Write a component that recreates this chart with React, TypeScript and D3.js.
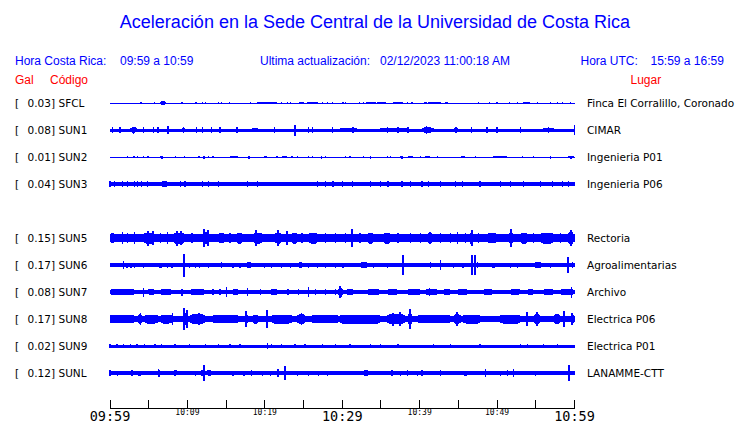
import React from "react";
import * as d3 from "d3";

const title = "Aceleración en la Sede Central de la Universidad de Costa Rica";
const codes = ["SFCL", "SUN1", "SUN2", "SUN3", "SUN5", "SUN6", "SUN7", "SUN8", "SUN9", "SUNL"];
const gals = ["0.03", "0.08", "0.01", "0.04", "0.15", "0.17", "0.08", "0.17", "0.02", "0.12"];
const places = [
  "Finca El Corralillo, Coronado", "CIMAR", "Ingenieria P01", "Ingenieria P06", "Rectoria",
  "Agroalimentarias", "Archivo", "Electrica P06", "Electrica P01", "LANAMME-CTT",
];
const slots = [0, 1, 2, 3, 5, 6, 7, 8, 9, 10];
// background (noise floor) half-amplitude for each trace, relative units
const baseAmp = [0.5, 1.5, 0.5, 1.7, 4.0, 1.6, 2.3, 3.4, 1.5, 1.7];

// events: [minute, amp] spikes or [minuteStart, minuteEnd, amp] bursts (minutes after 09:59)
const evSFCL = [[4.0,1],[5.7,0.7],[6.5,7.2,2.2],[9.3,0.8],[11.1,0.8],[11.9,1],[12.3,1],[14.0,1],[14.4,1],[15.4,1],[18.2,1],[19.0,21.6,1.1],[22.2,1],[22.9,1],[23.3,1],[24.4,25.0,1.2],[25.5,26.9,1.2],[27.5,1],[28.1,1],[28.7,1],[30.1,1],[30.4,1],[32.2,1],[32.7,1],[33.1,34.3,1],[34.5,35.6,1.2],[36.6,37.8,1.4],[38.4,1],[39.0,1],[40.5,41.0,1.2],[41.1,42.7,1],[43.3,43.7,1],[47.6,1],[49.0,1],[50.0,1],[51.6,1],[52.6,1],[53.4,54.3,1],[55.2,1],[56.9,1],[57.8,1],[58.4,1],[59.5,1]];
const evSUN1 = [[0.3,2.8],[1.3,2.8],[2.6,3.5,2.6],[3.0,3.5],[4.3,3.2],[5.6,2.8],[6.2,2.8],[7.5,3.6],[9.3,9.7,2.6],[11.2,3.2],[11.9,2.8],[13.1,2.8],[14.2,3],[16.4,2.6],[18.4,19.1,2.3],[21.3,2.8],[23.9,5.5],[25.6,2.8],[26.2,2.8],[28.7,2.8],[29.7,31.9,2.2],[31.4,3.2],[34.9,38.4,2],[35.8,2.8],[37.2,2.8],[38.5,3],[40.3,41.8,2.6],[40.9,3.8],[44.4,44.9,2.7],[44.6,3.3],[46.7,2.8],[48.7,2.8],[50.0,3.3],[53.0,2.8],[55.9,57.3,2.3],[56.6,2.8],[59.9,60,5]];
const evSUN2 = [[2.3,1.3],[3.1,1.3],[3.6,1.3],[4.3,1.3],[4.9,1.3],[6.5,6.9,1.5],[8.5,1.2],[9.6,1.2],[11.5,1.2],[12.0,12.3,1.5],[12.7,1.2],[13.3,1.2],[15.5,16.6,1.2],[17.8,18.1,1.5],[19.9,20.3,1.3],[21.5,21.7,1.3],[22.2,22.9,1.2],[23.5,1.2],[24.2,1.2],[25.6,1.2],[26.2,1.2],[27.2,27.4,1.5],[27.8,1.2],[30.4,1.2],[31.0,1.2],[32.7,1.2],[33.6,1.5],[35.8,1.2],[36.2,1.2],[37.5,37.9,1.5],[38.5,39.2,1.2],[40.1,1.2],[40.7,41.4,1.2],[42.3,1.2],[45.3,45.9,1.2],[47.2,1.2],[49.5,51.3,1.3],[53.3,1.2],[54.7,1.2],[56.9,1.5],[59.2,59.9,1.5]];
const evSUN3 = [[0.0,2.8],[0.6,2.6],[1.6,2.6],[2.3,2.6],[3.2,2.6],[3.6,2.6],[4.1,2.6],[4.8,2.8],[6.5,7.5,2.8],[9.1,2.6],[9.7,2.6],[11.9,2.8],[12.7,3.2],[14.0,2.6],[15.8,16.6,2.4],[17.8,2.6],[19.1,2.6],[20.0,20.4,2.4],[20.9,22.2,2.2],[22.9,24.2,2.2],[26.8,2.6],[27.8,2.6],[28.8,3.4],[30.0,2.6],[31.3,2.6],[33.6,2.6],[34.9,2.6],[35.9,2.6],[37.5,37.9,2.6],[38.8,2.6],[40.3,2.6],[41.1,2.6],[42.7,2.6],[44.6,2.6],[45.5,2.8],[47.8,2.6],[50.4,2.6],[51.7,2.6],[53.4,2.6],[55.6,2.6],[57.2,2.8],[58.4,2.6],[59.2,3.2]];
const evSUN5 = [[0.0,0.6,4.8],[1.6,6],[2.3,5],[3.2,6],[4.3,5.8,5.5],[4.9,7.5],[5.6,7],[6.5,5],[7.4,6],[8.1,9.7,5.5],[8.6,7.5],[9.2,7],[10.6,5],[11.9,12.7,6],[12.2,9],[12.6,8],[14.0,14.9,5],[15.5,5],[16.4,17.1,5.5],[18.5,19.7,5.5],[18.8,8],[21.3,22.2,5.5],[21.7,8],[22.9,7],[23.5,24.2,5.5],[24.8,5],[25.6,26.9,5.5],[27.8,4.8],[29.1,5],[30.4,5],[31.3,9],[32.3,5],[33.2,34.0,5.5],[35.3,36.2,5.5],[37.2,5],[38.8,5],[40.1,5],[41.1,41.6,6],[42.7,5],[44.0,4.8],[44.9,6],[45.9,5],[46.4,47.0,5.5],[46.8,8],[47.6,4.8],[48.7,50.0,5],[51.5,52.1,6],[51.8,9],[53.0,53.9,5.5],[54.7,5],[55.6,57.3,5.5],[58.2,5],[59.1,59.9,6],[59.5,8]];
const evSUN6 = [[1.7,4],[2.2,2.5],[2.7,2.5],[3.2,2.5],[4.3,2.5],[6.2,6.9,2.5],[7.4,2.5],[8.0,2.5],[9.6,11.5],[10.3,2.5],[11.0,2.5],[11.6,2.5],[12.7,2.5],[14.2,14.6,2.8],[15.9,2.5],[16.6,17.1,2.5],[17.5,18.4,2.6],[20.0,2.5],[20.9,2.5],[22.2,2.5],[23.3,2.5],[24.2,25.0,2.6],[25.6,2.5],[26.8,2.5],[27.8,2.5],[29.1,2.5],[30.1,2.5],[32.3,33.4,3],[34.0,2.5],[35.8,2.5],[37.8,10],[38.8,40.1,2.3],[41.4,3],[42.7,5],[44.4,2.5],[45.6,2.5],[46.7,10],[47.1,10],[47.5,3],[49.1,50.0,2.5],[51.7,2.5],[52.6,2.5],[54.6,55.9,2.8],[56.9,2.5],[59.1,8],[59.7,3]];
const evSUN7 = [[0.0,3.2,2.9],[4.3,4.5],[4.9,5.8,2.9],[6.5,8.0,2.9],[9.3,3.5],[10.3,12.3,2.9],[13.3,3.2],[14.2,3.2],[15.1,5],[15.8,16.6,2.9],[17.8,4],[19.4,3.2],[20.7,21.7,2.9],[23.0,3.2],[24.3,3.2],[25.6,5],[26.5,3.2],[27.8,3.2],[29.1,3.2],[29.5,30.1,4.5],[29.7,6],[30.6,31.4,2.9],[33.2,34.9,2.9],[35.8,37.2,2.9],[38.4,40.1,2.9],[40.7,42.3,3.2],[41.3,4],[43.1,44.0,2.9],[44.9,46.2,2.9],[48.2,49.5,2.9],[51.7,53.0,2.9],[53.9,54.7,2.9],[56.0,57.3,2.9],[58.2,59.9,2.9],[59.6,5.5]];
const evSUN8 = [[0.0,3.2,4],[3.6,4.1,5],[3.9,6],[4.5,6.2,4.5],[6.5,8.0,4.5],[8.1,6],[9.4,10.0,6],[9.6,11],[9.9,9],[10.3,12.3,4.8],[11.5,6],[13.2,16.6,4],[17.5,17.8,5.5],[17.6,8],[18.5,19.1,4.5],[20.3,9],[20.9,23.5,4.5],[24.2,25.2,5],[24.7,6],[26.1,29.5,4],[29.7,34.9,4.5],[35.8,38.1,5],[36.6,6.5],[37.5,7],[38.5,39.0,7],[38.8,10],[39.7,44.0,4],[44.4,45.3,5],[44.8,7],[45.6,47.8,4.5],[50.4,53.0,4.5],[53.9,7],[54.7,55.6,5],[55.1,7],[57.3,58.2,5],[58.6,8],[59.5,59.9,6]];
const evSUN9 = [[0.0,2],[0.9,2],[1.7,2],[2.6,2],[3.5,2],[4.5,2],[5.8,2],[6.7,2],[8.4,2],[10.3,2],[12.3,2],[14.0,2],[15.5,2],[16.8,2],[20.3,3],[20.9,2],[22.2,2],[23.9,2],[25.2,2],[27.4,2],[29.1,2],[31.0,2],[33.6,2],[34.9,2],[37.2,2],[41.8,2],[44.0,2],[47.8,2],[53.0,2],[53.9,2],[56.0,2],[57.8,2]];
const evSUNL = [[0.0,3],[1.0,2.5],[2.6,3.0,2.8],[3.5,4.1,2.5],[6.1,6.5,3.5],[6.3,4],[8.1,8.7,2.8],[11.0,2.5],[11.6,12.3,3.2],[12.2,8],[12.5,13.2,3.2],[15.9,2.5],[17.1,17.5,2.5],[18.1,18.4,2.8],[19.7,2.5],[20.7,2.5],[21.7,4],[22.6,7],[24.2,2.5],[25.6,2.5],[26.9,2.5],[28.1,2.5],[32.7,33.4,2.8],[36.2,36.6,2.8],[37.5,2.5],[38.4,3],[39.7,2.5],[40.3,3],[42.7,3],[45.6,46.2,2.5],[48.5,4],[50.4,2.5],[51.3,3],[52.1,4],[55.0,2.5],[59.1,59.5,5],[59.3,8]];
const events = [evSFCL, evSUN1, evSUN2, evSUN3, evSUN5, evSUN6, evSUN7, evSUN8, evSUN9, evSUNL];

const tickMinutes = d3.range(0, 61, 5);
const labelMinutes = [0, 10, 20, 30, 40, 50, 60];
const tickLabels = ["09:59", "10:09", "10:19", "10:29", "10:39", "10:49", "10:59"];
const bigLabels = [true, false, false, true, false, false, true];

const BLUE = "#0000ff";
const RED = "#ff0000";

export default function App() {
  const x = d3.scaleLinear().domain([0, 60]).range([110, 574.5]);
  const rowY = d3.scaleLinear().domain([0, 10]).range([103, 373]);
  const amp = d3.scaleLinear().domain([0, 12]).range([0, 12]);
  const sans = "'Liberation Sans', Arial, sans-serif";
  const dv = "'DejaVu Sans', sans-serif";
  const mono = "'DejaVu Sans Mono', monospace";
  const axisY = 408.5;

  return (
    <svg width={740} height={423} style={{ position: "absolute", left: 0, top: 0, background: "#fff" }}>
      <rect x={0} y={0} width={740} height={423} fill="#fff" />
      <text x={375} y={28} textAnchor="middle" fontFamily={sans} fontSize={18} fill={BLUE}>{title}</text>

      <g fontFamily={sans} fontSize={12} fill={BLUE}>
        <text x={15} y={65}>Hora Costa Rica:</text>
        <text x={120} y={65}>09:59 a 10:59</text>
        <text x={260} y={65}>Ultima actualización:</text>
        <text x={380} y={65}>02/12/2023 11:00:18 AM</text>
        <text x={580.5} y={65}>Hora UTC:</text>
        <text x={650.5} y={65}>15:59 a 16:59</text>
      </g>
      <g fontFamily={sans} fontSize={12} fill={RED}>
        <text x={15} y={84}>Gal</text>
        <text x={50} y={84}>Código</text>
        <text x={630.5} y={84}>Lugar</text>
      </g>

      {codes.map((c, i) => {
        const cy = rowY(slots[i]);
        const b = amp(baseAmp[i]);
        return (
          <g key={c}>
            <g fontFamily={dv} fontSize={10.5} fill="#000">
              <text x={15} y={cy + 4}>[</text>
              <text x={27.5} y={cy + 4}>{gals[i]}]</text>
              <text x={58.5} y={cy + 4}>{c}</text>
              <text x={587} y={cy + 4}>{places[i]}</text>
            </g>
            <g fill={BLUE} shapeRendering="crispEdges">
              <rect x={x(0)} y={cy - b} width={x(60) - x(0)} height={Math.max(1, 2 * b)} />
              {events[i].map((e, j) => {
                if (e.length === 3) {
                  const x0 = x(e[0]);
                  const x1 = Math.max(x(e[1]), x0 + 1.2);
                  const a = amp(e[2]);
                  const tp = Math.min((x1 - x0) * 0.25, 2.5);
                  const bb = Math.min(b, a);
                  const pts: [number, number][] = [
                    [x0, cy - bb], [x0 + tp, cy - a], [x1 - tp, cy - a], [x1, cy - bb],
                    [x1, cy + bb], [x1 - tp, cy + a], [x0 + tp, cy + a], [x0, cy + bb],
                  ];
                  return <polygon key={j} points={pts.map((p) => p.join(",")).join(" ")} />;
                }
                const a = amp(e[1]);
                const w = a > 6 ? 2 : 1.2;
                return <rect key={j} x={x(e[0]) - w / 2} y={cy - a} width={w} height={2 * a} />;
              })}
            </g>
          </g>
        );
      })}

      <g stroke="#000" strokeWidth={1} shapeRendering="crispEdges">
        <line x1={x(0)} x2={x(60)} y1={axisY} y2={axisY} />
        {tickMinutes.map((m) => (
          <line key={m} x1={x(m)} x2={x(m)} y1={400} y2={axisY} />
        ))}
      </g>
      <g fontFamily={mono} fill="#000" textAnchor="middle">
        {labelMinutes.map((m, i) => (
          <text key={m} x={x(m)} y={bigLabels[i] ? 420.5 : 415} fontSize={bigLabels[i] ? 13.5 : 8}>
            {tickLabels[i]}
          </text>
        ))}
      </g>
    </svg>
  );
}
